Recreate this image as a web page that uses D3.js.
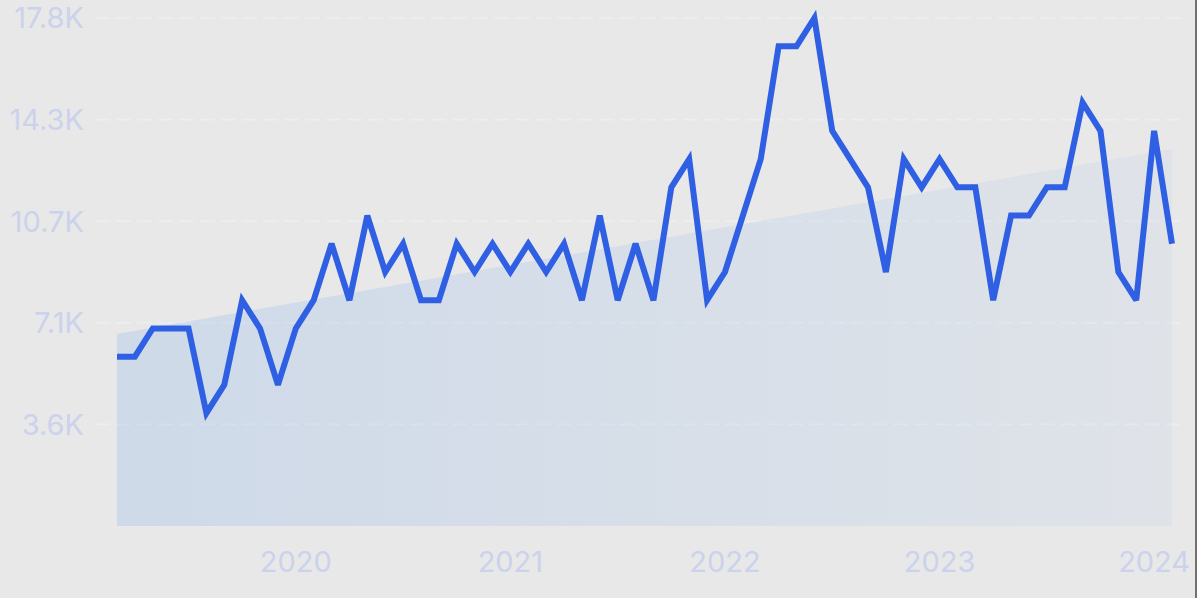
<!DOCTYPE html>
<html>
<head>
<meta charset="utf-8">
<script src="https://cdn.jsdelivr.net/npm/d3@7"></script>
<style>
  html, body { margin: 0; padding: 0; background: #e8e8e8; }
  svg { display: block; }
</style>
</head>
<body>
<div id="chart"></div>
<script>
// ---- data ----
const startMonth = "2019-03";
const values = [
  5944, 5944, 6934, 6934, 6934, 3962, 4953, 7925, 6934, 4953,
  6934, 7925, 9906, 7925, 10897, 8915, 9906, 7925, 7925, 9906,
  8915, 9906, 8915, 9906, 8915, 9906, 7925, 10897, 7925, 9906,
  7925, 11887, 12878, 7925, 8915, 10897, 12878, 16840, 16840, 17831,
  13868, 12878, 11887, 8915, 12878, 11887, 12878, 11887, 11887, 7925,
  10897, 10897, 11887, 11887, 14859, 13868, 8915, 7925, 13868, 9906
];
const yTickValues = [3566, 7132, 10699, 14265, 17831];
const yTickLabels = ["3.6K", "7.1K", "10.7K", "14.3K", "17.8K"];
const xTickYears = [2020, 2021, 2022, 2023, 2024];

// ---- layout ----
const W = 1197, H = 598;
const margin = { left: 117, right: 25, top: 18, bottom: 72 };

const parse = d3.timeParse("%Y-%m");
const t0 = parse(startMonth);
const dates = values.map((v, i) => d3.timeMonth.offset(t0, i));
const data = values.map((v, i) => ({ date: dates[i], i, value: v }));

const svg = d3.select("#chart").append("svg")
  .attr("width", W).attr("height", H);

svg.append("rect").attr("width", W).attr("height", H).attr("fill", "#e8e8e8");

const x = d3.scaleLinear()
  .domain([0, values.length - 1])
  .range([margin.left, W - margin.right]);
const y = d3.scaleLinear()
  .domain([0, d3.max(values)])
  .range([H - margin.bottom, margin.top]);

const monthIndex = d => (d.getFullYear() - t0.getFullYear()) * 12 + (d.getMonth() - t0.getMonth());

// ---- linear regression trend (area) ----
const mx = d3.mean(data, d => d.i), my = d3.mean(values);
const slope = d3.sum(data, d => (d.i - mx) * (d.value - my)) / d3.sum(data, d => (d.i - mx) ** 2);
const icpt = my - slope * mx;
const trend = data.map(d => ({ i: d.i, value: icpt + slope * d.i }));

const defs = svg.append("defs");
const grad = defs.append("linearGradient").attr("id", "areaGrad")
  .attr("x1", "0").attr("x2", "1").attr("y1", "0").attr("y2", "0");
grad.append("stop").attr("offset", "0%").attr("stop-color", "rgb(120,170,236)").attr("stop-opacity", 0.23);
grad.append("stop").attr("offset", "100%").attr("stop-color", "rgb(120,170,236)").attr("stop-opacity", 0.08);

// ---- gridlines ----
svg.append("g").selectAll("line")
  .data(yTickValues).join("line")
  .attr("x1", 95).attr("x2", 1180)
  .attr("y1", d => y(d)).attr("y2", d => y(d))
  .attr("stroke", "#eceef6").attr("stroke-width", 1.6)
  .attr("stroke-opacity", 0.85)
  .attr("stroke-dasharray", "15 6");

svg.append("path")
  .datum(trend)
  .attr("fill", "url(#areaGrad)")
  .attr("d", d3.area().x(d => x(d.i)).y0(y(0)).y1(d => y(d.value)));

// ---- y labels ----
svg.append("g").selectAll("text")
  .data(yTickValues).join("text")
  .attr("x", 84).attr("y", d => y(d))
  .attr("dy", "0.36em")
  .attr("text-anchor", "end")
  .attr("fill", "#cbd2ec")
  .attr("font-family", "Inter, Roboto, sans-serif")
  .attr("font-size", 29)
  .text((d, i) => yTickLabels[i]);

// ---- x labels ----
svg.append("g").selectAll("text")
  .data(xTickYears).join("text")
  .attr("x", yr => x(monthIndex(new Date(yr, 0, 1))))
  .attr("y", 562)
  .attr("dy", "0.36em")
  .attr("text-anchor", "middle")
  .attr("fill", "#cbd2ec")
  .attr("font-family", "Inter, Roboto, sans-serif")
  .attr("font-size", 29)
  .text(yr => String(yr));

// ---- line ----
svg.append("path")
  .datum(data)
  .attr("fill", "none")
  .attr("stroke", "#2f60e4")
  .attr("stroke-width", 6)
  .attr("stroke-linejoin", "miter")
  .attr("stroke-miterlimit", 3)
  .attr("d", d3.line().x(d => x(d.i)).y(d => y(d.value)));

// right edge border
svg.append("line").attr("x1", 1196).attr("x2", 1196).attr("y1", 0).attr("y2", H)
  .attr("stroke", "#4a4a4a").attr("stroke-width", 1.5);
</script>
</body>
</html>
